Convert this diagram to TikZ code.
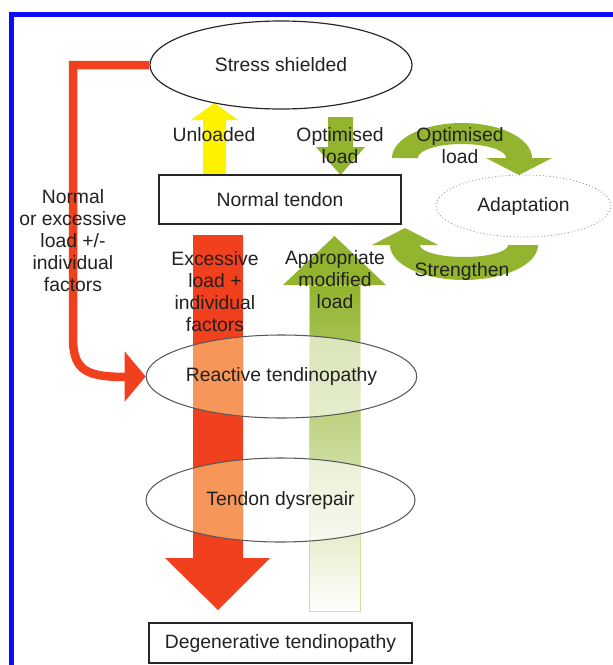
\documentclass[tikz,border=0pt]{standalone}
\usepackage{fontspec}
\setmainfont{Liberation Sans}
\usepackage{tikz}
\usetikzlibrary{shapes.geometric}

\definecolor{frameblue}{RGB}{12,12,245}
\definecolor{loadred}{RGB}{240,64,30}
\definecolor{loadorange}{RGB}{246,150,88}
\definecolor{adaptgreen}{RGB}{146,180,46}
\definecolor{palegreen}{RGB}{212,224,150}
\definecolor{unloadyellow}{RGB}{255,242,0}
\definecolor{inkgray}{RGB}{35,32,32}

\begin{document}
\begin{tikzpicture}[x=0.03cm,y=-0.03cm,
		font=\fontsize{16.5}{18.8}\selectfont,text=inkgray,
		ell/.style={ellipse,draw=black!65,line width=0.9pt,inner sep=0pt},
		box/.style={rectangle,draw=black!85,line width=1.1pt,inner sep=0pt},
		lbl/.style={align=center,inner sep=0pt}]
				\useasboundingbox (0,0) rectangle (613,665);
				\draw [frameblue,line width=0.165cm] (11.7,670) -- (11.7,14.5) -- (620,14.5);
				% block arrows
				\fill [unloadyellow] (203,175) -- (203,120) -- (191,120) -- (214.5,103) -- (238,120) -- (226,120) -- (226,175) -- cycle;
				\fill [adaptgreen] (328,117) -- (353,117) -- (353,147) -- (365,147) -- (340.5,175) -- (316,147) -- (328,147) -- cycle;
				\fill [loadred] (193,235) -- (243,235) -- (243,558) -- (270,558) -- (218,610) -- (165,558) -- (193,558) -- cycle;
				\shade [top color=adaptgreen,middle color=adaptgreen!55,bottom color=white,draw=palegreen,line width=0.8pt] (309,285) rectangle (360,611);
				\fill [adaptgreen] (283,285) -- (334.5,236) -- (386,285) -- cycle;
				\fill [adaptgreen] plot [domain=180:360,samples=40] ({462+70*cos(\x)},{158+35*sin(\x)}) -- (552,158) -- (519,175) -- (486,158) -- (506,158)
					-- plot [domain=360:180,samples=40] ({462+44*cos(\x)},{158+14*sin(\x)}) -- cycle;
				\fill [adaptgreen] plot [domain=0:180,samples=40] ({464+74*cos(\x)},{245+35*sin(\x)}) -- (372,245) -- (405,228) -- (438,245) -- (420,245)
					-- plot [domain=180:0,samples=40] ({464+44*cos(\x)},{245+12*sin(\x)}) -- cycle;
				\foreach \cy/\ry in {376.5/1.245cm,500/1.26cm}{
					\begin{scope}
						\clip (281,\cy) ellipse [x radius=4.02cm,y radius=\ry];
						\fill [loadorange] (193,\cy-50) rectangle (243,\cy+50);
						\fill [white,opacity=.6] (308,\cy-50) rectangle (361,\cy+50);
					\end{scope}
				}
				% states
				\node [ell,draw=black!85,line width=1pt,minimum width=7.86cm,minimum height=2.64cm] (ss) at (281,65) {Stress shielded};
				\node [box,minimum width=7.26cm,minimum height=1.47cm] (nt) at (280,199.5) {Normal tendon};
				\node [ell,draw=black!45,dotted,line width=0.6pt,minimum width=5.25cm,minimum height=1.86cm] (ad) at (523.5,206) {Adaptation};
				\node [ell,minimum width=8.01cm,minimum height=2.49cm] (rt) at (281.5,376.5) {Reactive tendinopathy};
				\node [ell,minimum width=8.07cm,minimum height=2.52cm] (td) at (280.5,500) {Tendon dysrepair};
				\node [box,minimum width=7.89cm,minimum height=1.2cm] (dt) at (280.5,643) {Degenerative tendinopathy};
				\draw [loadred,line width=0.255cm] (ss.west) -| (73,338) .. controls (73,372) and (88,377) .. (128,377);
				\fill [loadred] (rt.west) -- ++(-21,-25) -- ++(0,50) -- cycle;
				% labels
				\node [lbl] (ul) at (214,135) {Unloaded};
				\node [lbl] (ol) at (340,146) {Optimised\\load};
				\node [lbl] (or) at (460,146) {Optimised\\load};
				\node [lbl] (nl) at (73,241) {Normal\\or excessive\\load +/-\\individual\\factors};
				\node [lbl] (el) at (215,291.5) {Excessive\\load +\\individual\\factors};
				\node [lbl] (al) at (335,280) {Appropriate\\modified\\load};
				\node [lbl] (sl) at (462,271) {Strengthen};
			\end{tikzpicture}
\end{document}
